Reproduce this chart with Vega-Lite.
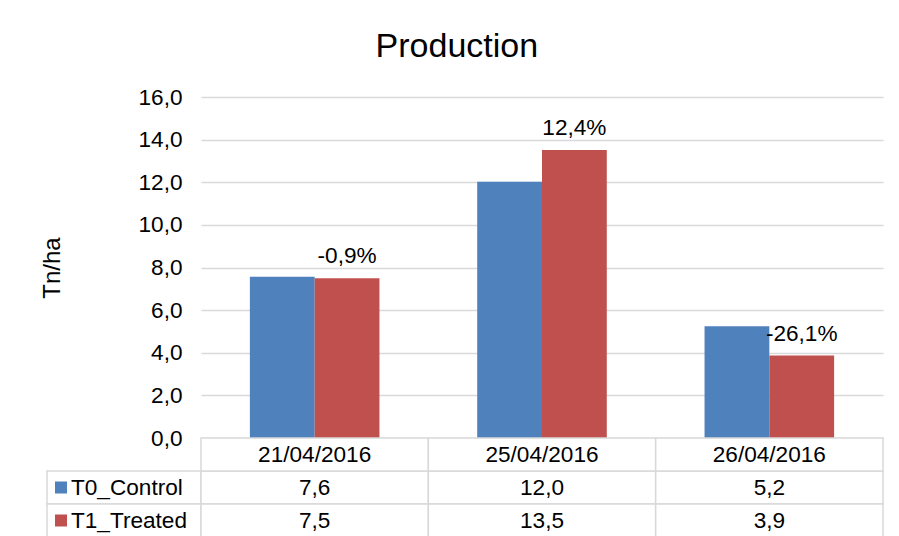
{
  "$schema": "https://vega.github.io/schema/vega-lite/v6.json",
  "background": "white",
  "padding": {"left": 40, "top": 30, "right": 16, "bottom": 0},
  "title": {"text": "Production", "fontSize": 34, "fontWeight": "normal", "color": "#000", "font": "Liberation Sans", "anchor": "middle", "offset": 22, "dx": -5},
  "config": {
    "font": "Liberation Sans",
    "locale": {"number": {"decimal": ",", "thousands": ".", "grouping": [3], "currency": ["", " €"]}},
    "view": {"stroke": null}
  },
  "datasets": {
    "prod": [
      {"date": "21/04/2016", "series": "T0_Control", "value": 7.57, "pct": ""},
      {"date": "21/04/2016", "series": "T1_Treated", "value": 7.50, "pct": "-0,9%"},
      {"date": "25/04/2016", "series": "T0_Control", "value": 12.02, "pct": ""},
      {"date": "25/04/2016", "series": "T1_Treated", "value": 13.51, "pct": "12,4%"},
      {"date": "26/04/2016", "series": "T0_Control", "value": 5.24, "pct": ""},
      {"date": "26/04/2016", "series": "T1_Treated", "value": 3.87, "pct": "-26,1%"}
    ]
  },
  "columns": 2,
  "spacing": 0,
  "bounds": "flush",
  "concat": [
    {
      "width": 154,
      "height": 341,
      "data": {"values": []},
      "mark": {"type": "rect"}
    },
    {
      "width": 682,
      "height": 341,
      "data": {"name": "prod"},
      "encoding": {
        "x": {"field": "date", "type": "nominal", "sort": null, "scale": {"paddingInner": 0.43, "paddingOuter": 0.215}, "axis": null},
        "xOffset": {"field": "series", "type": "nominal", "scale": {"domain": ["T0_Control", "T1_Treated"], "paddingInner": 0, "paddingOuter": 0}},
        "y": {"field": "value", "type": "quantitative", "scale": {"domain": [0, 16], "nice": false},
          "axis": {"title": "Tn/ha", "values": [0, 2, 4, 6, 8, 10, 12, 14, 16], "format": ".1f", "domain": false, "ticks": false,
            "labelFontSize": 22.6, "labelColor": "#000", "labelPadding": 19, "gridColor": "#d9d9d9", "gridWidth": 1.5,
            "titleFontSize": 24, "titleFontWeight": "normal", "titleColor": "#000", "titlePadding": 74, "minExtent": 63, "maxExtent": 63}}
      },
      "layer": [
        {"mark": {"type": "bar"},
         "encoding": {"color": {"field": "series", "type": "nominal", "scale": {"domain": ["T0_Control", "T1_Treated"], "range": ["#4f81bd", "#c0504d"]}, "legend": null}}},
        {"transform": [{"filter": "datum.series == 'T1_Treated'"}],
         "mark": {"type": "text", "baseline": "alphabetic", "dy": -15, "fontSize": 22.6, "color": "#000"},
         "encoding": {"text": {"field": "pct"}}}
      ]
    },
    {
      "width": 154,
      "height": 99,
      "data": {"name": "prod"},
      "transform": [{"filter": "datum.date == '21/04/2016'"}],
      "encoding": {"y": {"field": "series", "type": "nominal", "scale": {"domain": ["header", "T0_Control", "T1_Treated"], "paddingInner": 0, "paddingOuter": 0}, "axis": null}},
      "layer": [
        {"mark": {"type": "rect", "fill": "white", "stroke": "#d9d9d9", "strokeWidth": 1.5}},
        {"mark": {"type": "point", "shape": "square", "filled": true, "size": 144, "opacity": 1, "xOffset": -63},
         "encoding": {"color": {"field": "series", "type": "nominal", "scale": {"domain": ["T0_Control", "T1_Treated"], "range": ["#4f81bd", "#c0504d"]}, "legend": null}}},
        {"mark": {"type": "text", "align": "left", "xOffset": -53, "fontSize": 22.6, "color": "#000"},
         "encoding": {"text": {"field": "series"}}}
      ]
    },
    {
      "width": 682,
      "height": 99,
      "data": {"name": "prod"},
      "encoding": {"x": {"field": "date", "type": "nominal", "sort": null, "scale": {"paddingInner": 0, "paddingOuter": 0}, "axis": null}},
      "layer": [
        {"mark": {"type": "rect", "fill": "white", "stroke": "#d9d9d9", "strokeWidth": 1.5},
         "encoding": {"y": {"field": "series", "type": "nominal", "scale": {"domain": ["header", "T0_Control", "T1_Treated"], "paddingInner": 0, "paddingOuter": 0}, "axis": null}}},
        {"transform": [{"filter": "datum.series == 'T0_Control'"}],
         "mark": {"type": "rect", "fill": "white", "stroke": "#d9d9d9", "strokeWidth": 1.5},
         "encoding": {"y": {"datum": "header", "type": "nominal"}}},
        {"mark": {"type": "text", "fontSize": 22.6, "color": "#000"},
         "encoding": {"y": {"field": "series", "type": "nominal"}, "text": {"field": "value", "type": "quantitative", "format": ".1f"}}},
        {"transform": [{"filter": "datum.series == 'T0_Control'"}],
         "mark": {"type": "text", "fontSize": 22.6, "color": "#000"},
         "encoding": {"y": {"datum": "header", "type": "nominal"}, "text": {"field": "date"}}}
      ]
    }
  ]
}
